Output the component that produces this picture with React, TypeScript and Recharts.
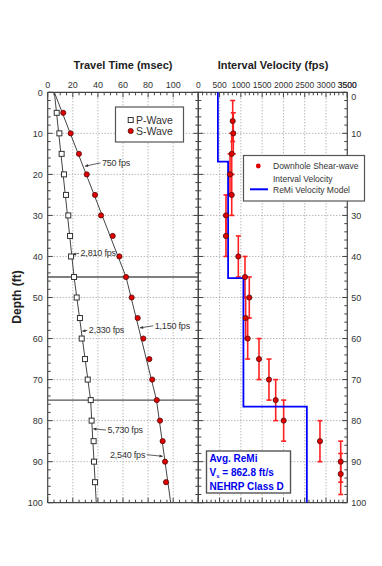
import { CartesianGrid, ErrorBar, ReferenceLine, Scatter, ScatterChart, XAxis, YAxis } from "recharts";

// travel time picks (ms) at receiver depths (ft)
const pickDepth = [5, 10, 15, 20, 25, 30, 35, 40, 45, 50, 55, 60, 65, 70, 75, 80, 85, 90, 95];
const pWaveTime = [7.2, 9.3, 11.1, 13.0, 14.6, 16.4, 17.8, 18.6, 21.0, 23.1, 25.7, 27.1, 29.7, 31.9, 34.3, 35.0, 36.6, 36.9, 37.7];
const sWaveTime = [12.4, 18.3, 24.9, 31.1, 37.7, 42.5, 51.8, 57.1, 62.4, 66.9, 71.7, 76.2, 81.0, 83.3, 86.9, 89.5, 91.6, 93.5, 94.3];

// fitted segments
const fitDepth = [0, 45, 75, 100];
const pFitTime = [5.3, 21.0, 34.2, 38.7];
const sFitTime = [5.3, 62.4, 86.7, 98.0];
const layerBreaks = [45, 75];

// slope labels: text, arrow start (time, depth), arrow tip (time, depth)
const slopeText = ["750 fps", "2,810 fps", "2,330 fps", "1,150 fps", "5,730 fps", "2,540 fps"];
const slopeFromT = [42, 25, 31.6, 84.1, 46.5, 78.9];
const slopeFromD = [17.2, 39.2, 58.0, 56.9, 82.3, 88.3];
const slopeToT = [29.7, 19.9, 27.6, 73.5, 36.3, 91.6];
const slopeToD = [18.0, 39.6, 58.2, 57.4, 82.0, 88.7];

// downhole interval velocity
const dhDepth = [7, 10, 15, 20, 25, 30, 35, 40, 45, 50, 55, 60, 65, 70, 75, 80, 85, 90, 93];
const dhVel = [808, 822, 785, 745, 785, 650, 650, 940, 1097, 1198, 1113, 1160, 1426, 1660, 1818, 2005, 2858, 3345, 3345];
const dhHalfSpan = 5;

// ReMi layered model
const remiVel = [460, 700, 1060, 2550];
const remiTop = [0, 16.9, 45.3, 76.6];
const remiBase = [16.9, 45.3, 76.6, 100];

const timeTicks = Array.from({ length: 25 }, (_, i) => i * 5);
const velTicks = Array.from({ length: 36 }, (_, i) => i * 100);
const depthTicks = Array.from({ length: 51 }, (_, i) => i * 2);

const pData = pickDepth.map((d, i) => ({ t: pWaveTime[i], d }));
const sData = pickDepth.map((d, i) => ({ t: sWaveTime[i], d }));
const pFit = fitDepth.map((d, i) => ({ t: pFitTime[i], d }));
const sFit = fitDepth.map((d, i) => ({ t: sFitTime[i], d }));
const dhData = dhDepth.map((d, i) => ({ v: dhVel[i], d, e: dhHalfSpan }));
const remiData = remiVel.flatMap((v, i) => [
  { v, d: remiTop[i] },
  { v, d: remiBase[i] },
]);

const AX = "#444";
const TXT = "#333";
const FONT = "'Liberation Sans', Arial, sans-serif";

type Side = "top" | "bottom" | "left" | "right";

function makeTick(side: Side, majorEvery: number, labelMax: number | null, fontSize: number) {
  return (props: any) => {
    const { x, y, payload } = props;
    const v = payload.value as number;
    const major = Math.abs(v / majorEvery - Math.round(v / majorEvery)) < 1e-6;
    const len = major ? 5 : 3;
    const label = major && labelMax !== null && v <= labelMax;
    const common = { fontSize, fill: TXT, fontFamily: FONT };
    if (side === "top")
      return (
        <g>
          <line x1={x} y1={y} x2={x} y2={y + len} stroke={AX} />
          {label && <text x={x} y={y - 4} textAnchor="middle" {...common}>{v}</text>}
        </g>
      );
    if (side === "bottom")
      return <line x1={x} y1={y} x2={x} y2={y - len} stroke={AX} />;
    if (side === "left")
      return (
        <g>
          <line x1={x} y1={y} x2={x + len} y2={y} stroke={AX} />
          {label && <text x={x - 5} y={y + 3.5} textAnchor="end" {...common}>{v}</text>}
        </g>
      );
    // the top "0" on the right sits a little lower so it clears the 3500 label
    return (
      <g>
        <line x1={x} y1={y} x2={x - len} y2={y} stroke={AX} />
        {label && <text x={x + 4} y={v === 0 ? y + 8 : y + 3.5} textAnchor="start" {...common}>{v}</text>}
      </g>
    );
  };
}

const square = (p: any) => (
  <rect x={p.cx - 2.5} y={p.cy - 2.5} width={5} height={5} fill="#fff" stroke="#333" strokeWidth={1} />
);
const redDot = (p: any) => <circle cx={p.cx} cy={p.cy} r={2.6} fill="#e00000" stroke="#501010" strokeWidth={0.8} />;
const noDot = () => <g />;

function arrowShape(text: string) {
  return (p: any) => {
    const { x1, y1, x2, y2 } = p;
    const ang = Math.atan2(y2 - y1, x2 - x1);
    const a = 3.5;
    const h1x = x2 - a * Math.cos(ang - 0.45);
    const h1y = y2 - a * Math.sin(ang - 0.45);
    const h2x = x2 - a * Math.cos(ang + 0.45);
    const h2y = y2 - a * Math.sin(ang + 0.45);
    const right = x2 > x1;
    return (
      <g>
        <line x1={x1} y1={y1} x2={x2} y2={y2} stroke="#333" strokeWidth={0.8} />
        <polygon points={`${x2},${y2} ${h1x},${h1y} ${h2x},${h2y}`} fill="#333" />
        <text
          x={right ? x1 - 1.5 : x1 + 1.5}
          y={y1 + 3}
          textAnchor={right ? "end" : "start"}
          fontSize={9}
          fill="#333"
          fontFamily={FONT}
          letterSpacing={-0.2}
        >
          {text}
        </text>
      </g>
    );
  };
}

function TravelTimeChart() {
  return (
    <ScatterChart width={200} height={566} margin={{ top: 72.3, bottom: 53.3, left: 17.7, right: 0.7 }}>
      <CartesianGrid
        xAxisId="t"
        yAxisId="l"
        stroke="#999"
        strokeDasharray="1 2"
        verticalValues={[20, 40, 60, 80, 100]}
        horizontalValues={[10, 20, 30, 40, 50, 60, 70, 80, 90]}
      />
      <XAxis xAxisId="t" orientation="top" type="number" dataKey="t" domain={[0, 120]} allowDataOverflow
        ticks={timeTicks} interval={0} height={20} tickSize={0} tickMargin={0} tickLine={false}
        axisLine={{ stroke: AX, strokeWidth: 1.2 }} tick={makeTick("top", 20, 100, 9)} />
      <XAxis xAxisId="b" orientation="bottom" type="number" dataKey="t" domain={[0, 120]} allowDataOverflow
        ticks={timeTicks} interval={0} height={10} tickSize={0} tickMargin={0} tickLine={false}
        axisLine={{ stroke: AX, strokeWidth: 1.2 }} tick={makeTick("bottom", 20, null, 9)} />
      <YAxis yAxisId="l" orientation="left" type="number" dataKey="d" domain={[0, 100]} reversed allowDataOverflow
        ticks={depthTicks} interval={0} width={30} tickSize={0} tickMargin={0} tickLine={false}
        axisLine={{ stroke: AX, strokeWidth: 1.2 }} tick={makeTick("left", 10, 100, 9)} />
      <YAxis yAxisId="r" orientation="right" type="number" dataKey="d" domain={[0, 100]} reversed allowDataOverflow
        ticks={depthTicks} interval={0} width={1} tickSize={0} tickMargin={0} tickLine={false}
        axisLine={{ stroke: AX, strokeWidth: 1.2 }} tick={makeTick("right", 10, null, 9)} />
      {layerBreaks.map((d) => (
        <ReferenceLine key={d} xAxisId="t" yAxisId="l" y={d} stroke="#555" strokeWidth={1.4} />
      ))}
      <Scatter xAxisId="t" yAxisId="l" data={pFit} line={{ stroke: "#444", strokeWidth: 1 }} shape={noDot} isAnimationActive={false} />
      <Scatter xAxisId="t" yAxisId="l" data={sFit} line={{ stroke: "#444", strokeWidth: 1 }} shape={noDot} isAnimationActive={false} />
      <Scatter xAxisId="t" yAxisId="l" data={pData} shape={square} isAnimationActive={false} />
      <Scatter xAxisId="t" yAxisId="l" data={sData} shape={redDot} isAnimationActive={false} />
      {slopeText.map((txt, i) => (
        <ReferenceLine
          key={txt}
          xAxisId="t"
          yAxisId="l"
          segment={[
            { x: slopeFromT[i], y: slopeFromD[i] },
            { x: slopeToT[i], y: slopeToD[i] },
          ]}
          shape={arrowShape(txt)}
        />
      ))}
    </ScatterChart>
  );
}

function VelocityChart() {
  return (
    <ScatterChart width={192} height={566} margin={{ top: 72.3, bottom: 53.3, left: 7.3, right: 4.7 }}>
      <CartesianGrid
        xAxisId="t"
        yAxisId="l"
        stroke="#999"
        strokeDasharray="1 2"
        verticalValues={[500, 1000, 1500, 2000, 2500, 3000]}
        horizontalValues={[10, 20, 30, 40, 50, 60, 70, 80, 90]}
      />
      <XAxis xAxisId="t" orientation="top" type="number" dataKey="v" domain={[0, 3500]} allowDataOverflow
        ticks={velTicks.concat([3500])} interval={0} height={20} tickSize={0} tickMargin={0} tickLine={false}
        axisLine={{ stroke: AX, strokeWidth: 1.2 }} tick={makeTick("top", 500, 3500, 8.5)} />
      <XAxis xAxisId="b" orientation="bottom" type="number" dataKey="v" domain={[0, 3500]} allowDataOverflow
        ticks={velTicks} interval={0} height={10} tickSize={0} tickMargin={0} tickLine={false}
        axisLine={{ stroke: AX, strokeWidth: 1.2 }} tick={makeTick("bottom", 500, null, 9)} />
      <YAxis yAxisId="l" orientation="left" type="number" dataKey="d" domain={[0, 100]} reversed allowDataOverflow
        ticks={depthTicks} interval={0} width={1} tickSize={0} tickMargin={0} tickLine={false}
        axisLine={{ stroke: AX, strokeWidth: 1.2 }} tick={makeTick("left", 10, null, 9)} />
      <YAxis yAxisId="r" orientation="right" type="number" dataKey="d" domain={[0, 100]} reversed allowDataOverflow
        ticks={depthTicks} interval={0} width={30} tickSize={0} tickMargin={0} tickLine={false}
        axisLine={{ stroke: AX, strokeWidth: 1.2 }} tick={makeTick("right", 10, 100, 9)} />
      <Scatter xAxisId="t" yAxisId="l" data={remiData} line={{ stroke: "#0000ff", strokeWidth: 1.8 }} shape={noDot} isAnimationActive={false} />
      <Scatter xAxisId="t" yAxisId="l" data={dhData} shape={redDot} isAnimationActive={false}>
        <ErrorBar dataKey="e" direction="y" stroke="#ff2020" strokeWidth={1.6} width={2.5} />
      </Scatter>
    </ScatterChart>
  );
}

export default function App() {
  return (
    <div style={{ position: "absolute", left: 0, top: 0, width: 382, height: 566, background: "#fff", fontFamily: FONT }}>
      <div style={{ position: "absolute", left: 0, top: 0 }}>
        <TravelTimeChart />
      </div>
      <div style={{ position: "absolute", left: 190, top: 0 }}>
        <VelocityChart />
      </div>
      <svg width={382} height={566} style={{ position: "absolute", left: 0, top: 0, pointerEvents: "none" }} fontFamily={FONT}>
        <text x={123} y={69} textAnchor="middle" fontSize={11} fontWeight="bold" fill="#222">Travel Time (msec)</text>
        <text x={273} y={69} textAnchor="middle" fontSize={11} fontWeight="bold" fill="#222">Interval Velocity (fps)</text>
        <text x={21} y={297} transform="rotate(-90 21 297)" textAnchor="middle" fontSize={12} fontWeight="bold" fill="#222">Depth (ft)</text>

        <rect x={115.5} y={107} width={68} height={35} fill="#fff" stroke="#555" strokeWidth={1.2} />
        <rect x={128.2} y={117.5} width={5} height={5} fill="#fff" stroke="#333" />
        <text x={136} y={124} fontSize={10.5} fill={TXT}>P-Wave</text>
        <circle cx={130.7} cy={131} r={2.6} fill="#e00000" stroke="#501010" strokeWidth={0.8} />
        <text x={136} y={135} fontSize={10.5} fill={TXT}>S-Wave</text>

        <rect x={243.5} y={155.5} width={121} height={45.5} fill="#fff" stroke="#555" strokeWidth={1.2} />
        <circle cx={258.3} cy={166} r={2.4} fill="#e00000" />
        <text x={273} y={169} fontSize={8.5} fill={TXT}>Downhole Shear-wave</text>
        <text x={273} y={181.5} fontSize={8.5} fill={TXT}>Interval Velocity</text>
        <line x1={250} y1={189.3} x2={268} y2={189.3} stroke="#0000ff" strokeWidth={2} />
        <text x={273} y={192.5} fontSize={8.5} fill={TXT}>ReMi Velocity Model</text>

        <rect x={206.5} y={451} width={84} height={42} fill="#fff" stroke="#555" strokeWidth={1.4} />
        <text x={209.5} y={462} fontSize={10} fontWeight="bold" fill="#0000ee">Avg. ReMi</text>
        <text x={209.5} y={475.5} fontSize={10} fontWeight="bold" fill="#0000ee">
          V<tspan fontSize={6} dy={2}>s</tspan><tspan dy={-2}> = 862.8 ft/s</tspan>
        </text>
        <text x={209.5} y={490} fontSize={10} fontWeight="bold" fill="#0000ee">NEHRP Class D</text>
      </svg>
    </div>
  );
}
